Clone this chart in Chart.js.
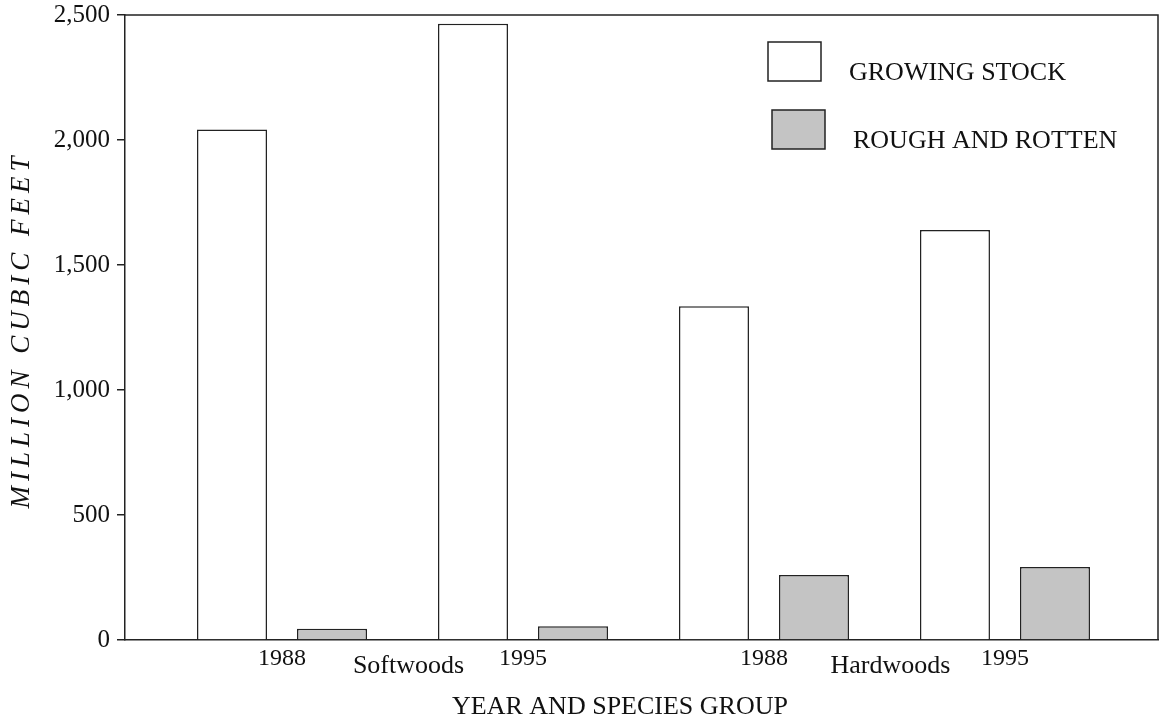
<!DOCTYPE html>
<html>
<head>
<meta charset="utf-8">
<script src="https://cdn.jsdelivr.net/npm/chart.js@4"></script>
<style>
  html, body { margin: 0; background: #fff; }
</style>
</head>
<body>
<canvas id="chart" width="1161" height="724"></canvas>
<script>
// === DATA ===
const years = ["1988", "1995", "1988", "1995"];
const groups = ["Softwoods", "Hardwoods"];
const growingStock = [2042, 2465, 1335, 1640];
const roughRotten = [45, 55, 260, 292];
const yTicks = [0, 500, 1000, 1500, 2000, 2500];
const xTitle = "YEAR AND SPECIES GROUP";
const yTitle = "MILLION CUBIC FEET";

const ink = "#222";
const serif = "'Liberation Serif', 'Times New Roman', serif";

// x positions are 1..n on a linear scale so the groups can sit off-centre like the original
const toPoints = arr => arr.map((v, i) => ({ x: i + 1, y: v }));

// frame, axis titles, group names and legend
const extras = {
  id: "extras",
  afterDraw(chart) {
    const ctx = chart.ctx;
    const a = chart.chartArea;
    const xs = chart.scales.x;
    ctx.save();
    ctx.strokeStyle = ink;
    ctx.lineWidth = 1.5;
    ctx.beginPath();
    ctx.moveTo(a.left, a.top);
    ctx.lineTo(a.right, a.top);
    ctx.lineTo(a.right, a.bottom);
    ctx.stroke();

    ctx.fillStyle = "#111";
    ctx.font = "26px " + serif;
    ctx.textAlign = "center";
    ctx.textBaseline = "middle";
    groups.forEach((g, i) => {
      ctx.fillText(g, xs.getPixelForValue(i * 2 + 1.5) + 6, a.bottom + 26);
    });
    ctx.fillText(xTitle, 620, 707);

    // y title, spaced out like the scan
    ctx.save();
    ctx.translate(22, 333);
    ctx.rotate(-Math.PI / 2);
    ctx.font = "italic 27px " + serif;
    ctx.letterSpacing = "5px";
    ctx.fillText(yTitle, 3, 0);
    ctx.restore();

    // legend
    const boxes = [[768, 42], [772, 110]];
    ctx.textAlign = "left";
    ctx.font = "26px " + serif;
    chart.data.datasets.forEach((ds, i) => {
      const [bx, by] = boxes[i];
      ctx.fillStyle = ds.backgroundColor;
      ctx.fillRect(bx, by, 53, 39);
      ctx.strokeRect(bx, by, 53, 39);
      ctx.fillStyle = "#111";
      ctx.fillText(ds.label, bx + 81, by + 31);
    });
    ctx.restore();
  }
};

new Chart(document.getElementById("chart"), {
  type: "bar",
  data: {
    datasets: [
      {
        label: "GROWING STOCK",
        data: toPoints(growingStock),
        backgroundColor: "#ffffff",
        borderColor: ink,
        borderWidth: 1.5,
        borderSkipped: "bottom"
      },
      {
        label: "ROUGH AND ROTTEN",
        data: toPoints(roughRotten),
        backgroundColor: "#c4c4c4",
        borderColor: ink,
        borderWidth: 1.5,
        borderSkipped: "bottom"
      }
    ]
  },
  options: {
    responsive: false,
    animation: false,
    categoryPercentage: 0.83,
    barPercentage: 0.7,
    layout: { padding: { top: 15, right: 3, left: 0, bottom: 0 } },
    plugins: { legend: { display: false }, tooltip: { enabled: false } },
    scales: {
      x: {
        type: "linear",
        offset: false,
        min: 0.3485,
        max: 4.635,
        afterBuildTicks: axis => { axis.ticks = years.map((y, i) => ({ value: i + 1 })); },
        afterFit: axis => { axis.height = 84; axis.paddingLeft = 0; axis.paddingRight = 0; },
        grid: { display: false, drawTicks: false },
        border: { color: ink, width: 1.5 },
        ticks: {
          padding: 4,
          color: "#111",
          font: { family: serif, size: 24 },
          maxRotation: 0,
          autoSkip: false,
          callback: v => years[v - 1] || ""
        }
      },
      y: {
        min: 0,
        max: 2500,
        afterBuildTicks: axis => { axis.ticks = yTicks.map(v => ({ value: v })); },
        afterFit: axis => { axis.width = 125; axis.paddingTop = 0; axis.paddingBottom = 0; },
        grid: { drawOnChartArea: false, tickLength: 8, color: ink, lineWidth: 1.5 },
        border: { color: ink, width: 1.5 },
        ticks: {
          padding: 7,
          color: "#111",
          font: { family: serif, size: 25 },
          callback: v => v.toLocaleString("en-US")
        }
      }
    }
  },
  plugins: [extras]
});
</script>
</body>
</html>
